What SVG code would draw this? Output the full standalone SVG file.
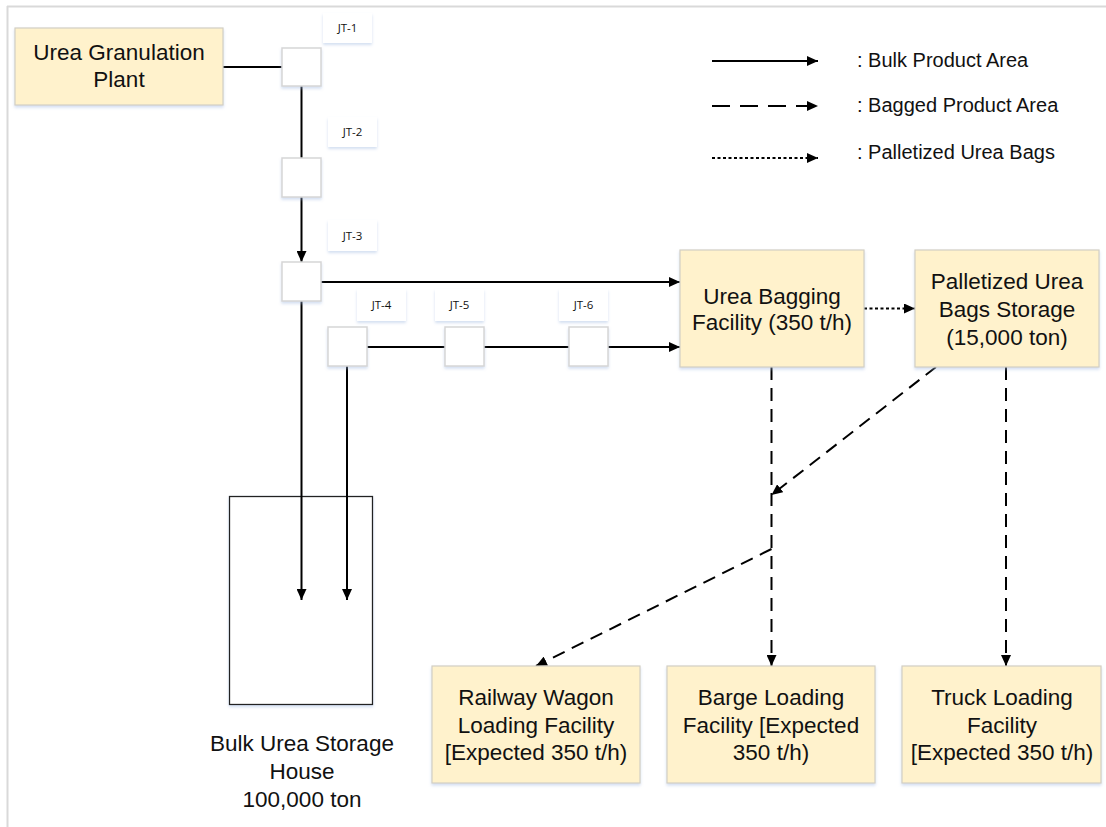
<svg xmlns="http://www.w3.org/2000/svg" width="1106" height="827" viewBox="0 0 1106 827">
<style>
.node{fill:#fff2cc;stroke:#d3cfc4;stroke-width:1.2}
.jt{fill:#ffffff;stroke:#d6d6d6;stroke-width:1.5}
.lbl{fill:#ffffff;stroke:none}
.t{font-family:"Liberation Sans",Arial,sans-serif;font-size:22.5px;fill:#111;text-anchor:middle}
.lg{font-family:"Liberation Sans",Arial,sans-serif;font-size:20px;fill:#111}
.jtt{font-family:"Open Sans","DejaVu Sans",sans-serif;font-size:11.5px;fill:#111;text-anchor:middle}
.s{fill:none;stroke:#000;stroke-width:2}
.d{fill:none;stroke:#000;stroke-width:2;stroke-dasharray:13 8}
.o{fill:none;stroke:#000;stroke-width:2;stroke-dasharray:3 2.5}
</style>
<defs>
<marker id="ah" markerUnits="userSpaceOnUse" markerWidth="12" markerHeight="10" refX="11" refY="5" orient="auto">
<path d="M0,0 L11,5 L0,10 z" fill="#000"/>
</marker>
<filter id="sh" x="-20%" y="-20%" width="140%" height="150%">
<feDropShadow dx="0" dy="2" stdDeviation="1.5" flood-color="#9fb8e0" flood-opacity="0.45"/>
</filter>
</defs>
<rect width="1106" height="827" fill="#ffffff"/>
<g id="frame">
<line x1="7" y1="6.5" x2="1106" y2="6.5" stroke="#d9d9d9" stroke-width="2"/>
<line x1="7.5" y1="6" x2="7.5" y2="827" stroke="#d9d9d9" stroke-width="2"/>
</g>

<g id="bulk-storage">
<rect x="229.5" y="496.5" width="143" height="208" fill="#fff" stroke="#222" stroke-width="1.3" filter="url(#sh)"/>
<text class="t" x="302" y="751">Bulk Urea Storage</text>
<text class="t" x="302" y="779">House</text>
<text class="t" x="302" y="807">100,000 ton</text>
</g>

<g id="connectors">
<line class="s" x1="223" y1="67" x2="282" y2="67"/>
<line class="s" x1="301.5" y1="86" x2="301.5" y2="158"/>
<line class="s" x1="301.5" y1="197" x2="301.5" y2="262" marker-end="url(#ah)"/>
<line class="s" x1="321" y1="282" x2="680" y2="282" marker-end="url(#ah)"/>
<line class="s" x1="301.5" y1="301" x2="301.5" y2="600" marker-end="url(#ah)"/>
<line class="s" x1="367" y1="347" x2="445" y2="347"/>
<line class="s" x1="484" y1="347" x2="569" y2="347"/>
<line class="s" x1="608" y1="347" x2="680" y2="347" marker-end="url(#ah)"/>
<line class="s" x1="347" y1="366" x2="347" y2="600" marker-end="url(#ah)"/>
<line class="o" x1="864" y1="308.5" x2="915" y2="308.5" marker-end="url(#ah)"/>
<line class="d" x1="771.5" y1="367" x2="771.5" y2="666" marker-end="url(#ah)"/>
<line class="d" x1="936" y1="367" x2="771.5" y2="495" marker-end="url(#ah)"/>
<line class="d" x1="771.5" y1="549" x2="536" y2="666" marker-end="url(#ah)"/>
<line class="d" x1="1006" y1="367" x2="1006" y2="666" marker-end="url(#ah)"/>
</g>

<g id="legend">
<line class="s" x1="712" y1="61" x2="818" y2="61" marker-end="url(#ah)"/>
<line fill="none" stroke="#000" stroke-width="2" stroke-dasharray="18 10" x1="712" y1="106" x2="818" y2="106" marker-end="url(#ah)"/>
<line class="o" x1="712" y1="158" x2="818" y2="158" marker-end="url(#ah)"/>
<text class="lg" x="857" y="67">: Bulk Product Area</text>
<text class="lg" x="857" y="112">: Bagged Product Area</text>
<text class="lg" x="857" y="159">: Palletized Urea Bags</text>
</g>

<g id="granulation">
<rect class="node" x="15" y="28" width="208" height="77" filter="url(#sh)"/>
<text class="t" x="119" y="60">Urea Granulation</text>
<text class="t" x="119" y="87">Plant</text>
</g>

<g id="jt1">
<rect class="lbl" x="323" y="13" width="49" height="30" filter="url(#sh)"/>
<text class="jtt" x="347.5" y="32">JT-1</text>
<rect class="jt" x="282" y="48" width="39" height="38" filter="url(#sh)"/>
</g>
<g id="jt2">
<rect class="lbl" x="328" y="117" width="49" height="30" filter="url(#sh)"/>
<text class="jtt" x="352.5" y="136">JT-2</text>
<rect class="jt" x="282" y="158" width="39" height="39" filter="url(#sh)"/>
</g>
<g id="jt3">
<rect class="lbl" x="328" y="220" width="49" height="31" filter="url(#sh)"/>
<text class="jtt" x="352.5" y="240">JT-3</text>
<rect class="jt" x="282" y="262" width="39" height="39" filter="url(#sh)"/>
</g>
<g id="jt4">
<rect class="lbl" x="357" y="289" width="49" height="32" filter="url(#sh)"/>
<text class="jtt" x="381.5" y="309">JT-4</text>
<rect class="jt" x="328" y="327" width="39" height="39" filter="url(#sh)"/>
</g>
<g id="jt5">
<rect class="lbl" x="435" y="289" width="49" height="32" filter="url(#sh)"/>
<text class="jtt" x="459.5" y="309">JT-5</text>
<rect class="jt" x="445" y="327" width="39" height="39" filter="url(#sh)"/>
</g>
<g id="jt6">
<rect class="lbl" x="559" y="289" width="49" height="32" filter="url(#sh)"/>
<text class="jtt" x="583.5" y="309">JT-6</text>
<rect class="jt" x="569" y="327" width="39" height="39" filter="url(#sh)"/>
</g>

<g id="bagging">
<rect class="node" x="680" y="250" width="184" height="117" filter="url(#sh)"/>
<text class="t" x="772" y="304">Urea Bagging</text>
<text class="t" x="772" y="330">Facility (350 t/h)</text>
</g>

<g id="palletized">
<rect class="node" x="915" y="250" width="184" height="117" filter="url(#sh)"/>
<text class="t" x="1007" y="289">Palletized Urea</text>
<text class="t" x="1007" y="317">Bags Storage</text>
<text class="t" x="1007" y="345">(15,000 ton)</text>
</g>

<g id="railway">
<rect class="node" x="432" y="666" width="208" height="117" filter="url(#sh)"/>
<text class="t" x="536" y="705">Railway Wagon</text>
<text class="t" x="536" y="733">Loading Facility</text>
<text class="t" x="536" y="760">[Expected 350 t/h)</text>
</g>

<g id="barge">
<rect class="node" x="667" y="666" width="208" height="117" filter="url(#sh)"/>
<text class="t" x="771" y="705">Barge Loading</text>
<text class="t" x="771" y="733">Facility [Expected</text>
<text class="t" x="771" y="760">350 t/h)</text>
</g>

<g id="truck">
<rect class="node" x="902" y="666" width="199" height="117" filter="url(#sh)"/>
<text class="t" x="1002" y="705">Truck Loading</text>
<text class="t" x="1002" y="733">Facility</text>
<text class="t" x="1002" y="760">[Expected 350 t/h)</text>
</g>
</svg>
